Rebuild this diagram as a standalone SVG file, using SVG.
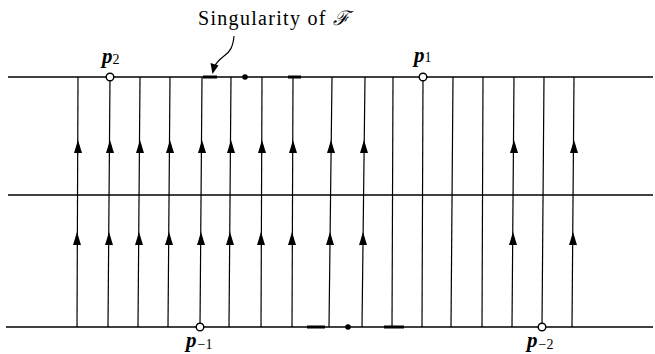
<svg xmlns="http://www.w3.org/2000/svg" width="655" height="354" viewBox="0 0 655 354">
<style>
.h{stroke:#000;stroke-width:1.4;fill:none}
.v{stroke:#000;stroke-width:1.2;fill:none}
.thick{stroke:#000;stroke-width:3;fill:none}
.ah{fill:#000}
.open{fill:#fff;stroke:#000;stroke-width:1.4}
.lbl{font-family:"Liberation Serif",serif;font-style:italic;font-weight:bold;font-size:21px;fill:#000}
.sub{font-size:14px;font-style:normal;font-weight:normal}
.note{font-family:"Liberation Serif",serif;font-size:20px;letter-spacing:1.3px;fill:#000}
</style>
<defs>
<path id="a" d="M0,0 L-4,13 L4,13 Z" class="ah"/>
</defs>
<g id="connectors">
<line class="h" x1="8" y1="77" x2="653" y2="77"/>
<line class="h" x1="8" y1="195" x2="653" y2="195"/>
<line class="h" x1="6" y1="327" x2="653" y2="327"/>
<line class="v" x1="78" y1="77" x2="77" y2="327"/>
<line class="v" x1="110" y1="77" x2="108" y2="327"/>
<line class="v" x1="140" y1="77" x2="138" y2="327"/>
<line class="v" x1="170" y1="77" x2="168" y2="327"/>
<line class="v" x1="202" y1="77" x2="200" y2="327"/>
<line class="v" x1="231" y1="77" x2="229" y2="327"/>
<line class="v" x1="262" y1="77" x2="261" y2="327"/>
<line class="v" x1="293" y1="77" x2="292" y2="327"/>
<line class="v" x1="332" y1="77" x2="329" y2="327"/>
<line class="v" x1="365" y1="77" x2="362" y2="327"/>
<line class="v" x1="393" y1="77" x2="392" y2="327"/>
<line class="v" x1="423" y1="77" x2="422" y2="327"/>
<line class="v" x1="453" y1="77" x2="451" y2="327"/>
<line class="v" x1="483" y1="77" x2="482" y2="327"/>
<line class="v" x1="514" y1="77" x2="512" y2="327"/>
<line class="v" x1="544" y1="77" x2="542" y2="327"/>
<line class="v" x1="574" y1="77" x2="572" y2="327"/>
<use href="#a" x="78" y="140"/><use href="#a" x="77" y="232"/>
<use href="#a" x="110" y="140"/><use href="#a" x="109" y="232"/>
<use href="#a" x="140" y="140"/><use href="#a" x="139" y="232"/>
<use href="#a" x="170" y="140"/><use href="#a" x="169" y="232"/>
<use href="#a" x="202" y="140"/><use href="#a" x="201" y="232"/>
<use href="#a" x="231" y="140"/><use href="#a" x="230" y="232"/>
<use href="#a" x="262" y="140"/><use href="#a" x="261" y="232"/>
<use href="#a" x="293" y="140"/><use href="#a" x="292" y="232"/>
<use href="#a" x="331" y="140"/><use href="#a" x="330" y="232"/>
<use href="#a" x="364" y="140"/><use href="#a" x="363" y="232"/>
<use href="#a" x="514" y="140"/><use href="#a" x="513" y="232"/>
<use href="#a" x="574" y="140"/><use href="#a" x="573" y="232"/>
<line class="thick" x1="203" y1="77" x2="217" y2="77"/>
<line class="thick" x1="288" y1="77" x2="301" y2="77"/>
<line class="thick" x1="307" y1="327" x2="325" y2="327"/>
<line class="thick" x1="384" y1="327" x2="404" y2="327"/>
<circle cx="245" cy="77" r="2.8" class="ah"/>
<circle cx="348" cy="327" r="2.8" class="ah"/>
<path d="M234,36 C233,47 230,52 224,56 C219,60 216,63 215,66" class="v" stroke-width="1.5"/>
<path d="M212.5,74 L210.5,63 L218.5,65.5 Z" class="ah"/>
</g>
<g id="p2"><circle cx="110" cy="77" r="3.8" class="open"/><text class="lbl" x="102" y="63">p<tspan class="sub" dy="1">2</tspan></text></g>
<g id="p1"><circle cx="423" cy="77" r="3.8" class="open"/><text class="lbl" x="414" y="62">p<tspan class="sub">1</tspan></text></g>
<g id="pm1"><circle cx="200" cy="327" r="3.8" class="open"/><text class="lbl" x="186" y="347">p<tspan class="sub" dy="2" dx="1">−1</tspan></text></g>
<g id="pm2"><circle cx="542" cy="327" r="3.8" class="open"/><text class="lbl" x="527" y="347">p<tspan class="sub" dy="2" dx="1">−2</tspan></text></g>
<g id="note"><text class="note" x="198" y="25">Singularity of <tspan font-style="italic">ℱ</tspan></text></g>
</svg>
